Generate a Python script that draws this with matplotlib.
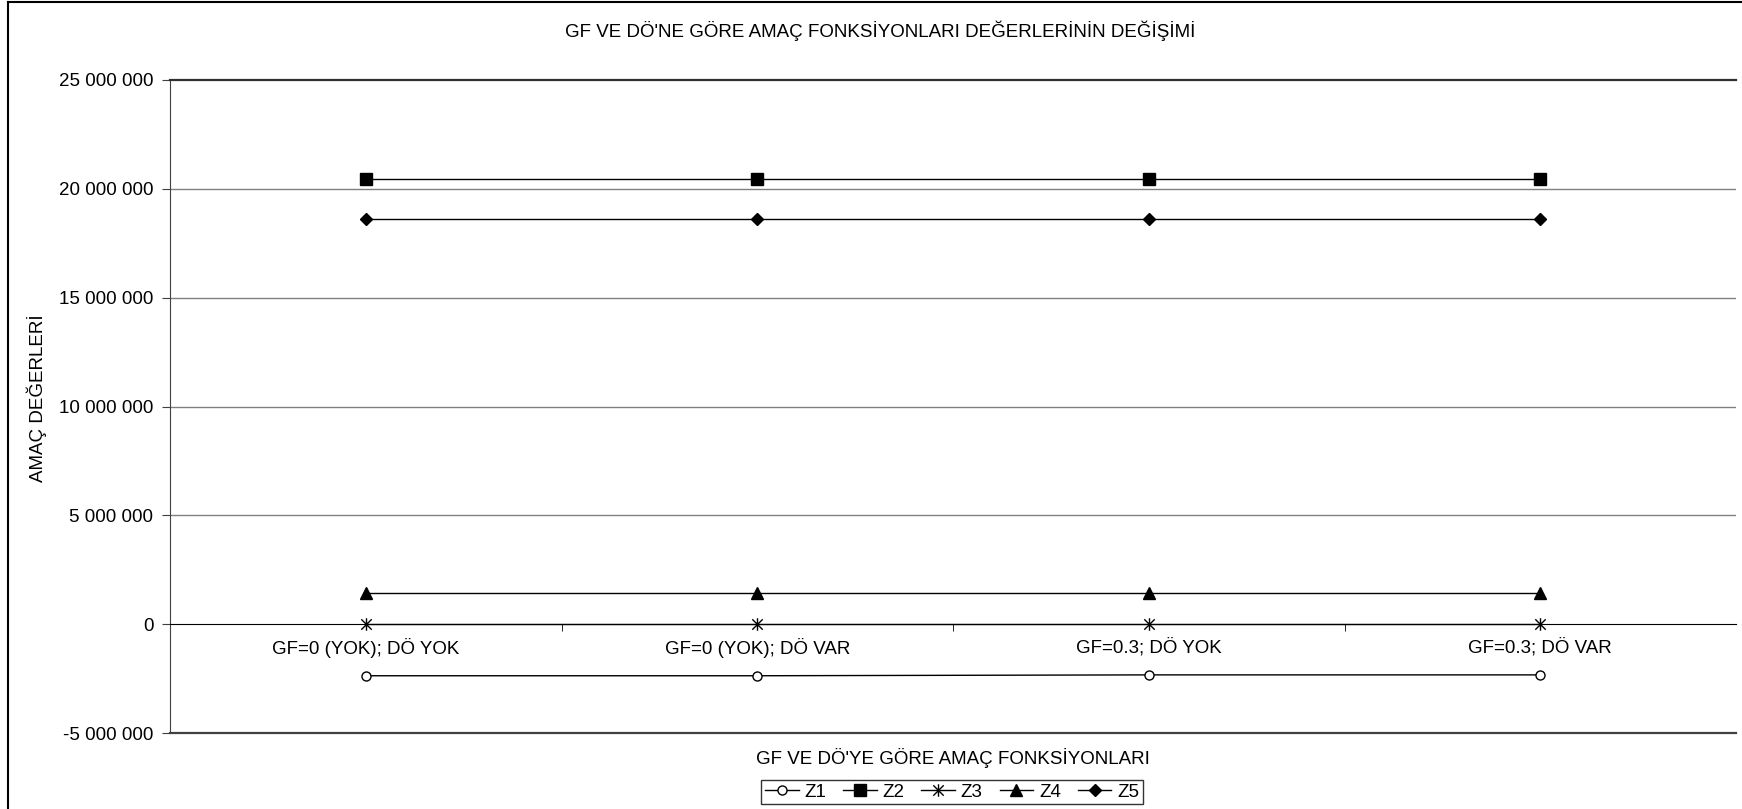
import matplotlib
matplotlib.use("Agg")
import matplotlib.pyplot as plt
from matplotlib.path import Path
from matplotlib.lines import Line2D

# kategori etiketleri ve amaç fonksiyonu değerleri
categories = ["GF=0 (YOK); DÖ YOK", "GF=0 (YOK); DÖ VAR", "GF=0.3; DÖ YOK", "GF=0.3; DÖ VAR"]
z1 = [-2370000, -2370000, -2330000, -2330000]
z2 = [20460000, 20460000, 20460000, 20460000]
z3 = [0, 0, 0, 0]
z4 = [1430000, 1430000, 1430000, 1430000]
z5 = [18620000, 18620000, 18620000, 18620000]
y_ticks = [-5000000, 0, 5000000, 10000000, 15000000, 20000000, 25000000]

plt.rcParams['font.family'] = ['Liberation Sans', 'DejaVu Sans']
fs = 13.5

# excel tarzı yıldız işareti: x + dikey çizgi
star = Path([(-0.5, -0.5), (0.5, 0.5), (-0.5, 0.5), (0.5, -0.5), (0, -0.6), (0, 0.6)],
            [Path.MOVETO, Path.LINETO, Path.MOVETO, Path.LINETO, Path.MOVETO, Path.LINETO])

W, H = 1742, 809
fig = plt.figure(figsize=(W / 100, H / 100), dpi=100)
ax = fig.add_axes([170 / W, 1 - 733 / H, (1736 - 170) / W, (733 - 80) / H])

x = list(range(len(categories)))
series = [
    ("Z1", z1, dict(marker="o", markersize=6.5, markerfacecolor="white")),
    ("Z2", z2, dict(marker="s", markersize=8, markerfacecolor="black")),
    ("Z3", z3, dict(marker=star, markersize=9, markerfacecolor="black", markeredgewidth=1)),
    ("Z4", z4, dict(marker="^", markersize=8, markerfacecolor="black")),
    ("Z5", z5, dict(marker="D", markersize=6.5, markerfacecolor="black")),
]
handles = []
for name, vals, style in series:
    h, = ax.plot(x, vals, color="black", lw=1, markeredgecolor="black", label=name,
                 zorder=4, **style)
    handles.append(h)

ax.set_xlim(-0.5, len(categories) - 0.5)
ax.set_ylim(-5000000, 25000000)

# yatay kılavuz çizgileri
for v in y_ticks[1:-1]:
    if v != 0:
        ax.axhline(v, color="#808080", lw=1, zorder=1)
ax.axhline(-5000000, color="#404040", lw=1.6, zorder=1, clip_on=False)

ax.spines['top'].set_color("#303030")
ax.spines['top'].set_linewidth(1.6)
ax.spines['right'].set_visible(False)
ax.spines['left'].set_color("#404040")
ax.spines['bottom'].set_position(('data', 0))
ax.spines['bottom'].set_color("black")

ax.set_yticks(y_ticks)
ax.set_yticklabels([f"{v:,.0f}".replace(",", " ") for v in y_ticks], fontsize=fs)
ax.tick_params(axis="y", direction="out", length=6, color="#404040", pad=6)

ax.set_xticks(x)
ax.set_xticklabels(categories, fontsize=fs)
ax.tick_params(axis="x", which="major", length=0, pad=10)
ax.set_xticks([0.5, 1.5, 2.5], minor=True)
ax.tick_params(axis="x", which="minor", direction="out", length=5, color="black")

fig.text(880 / W, 1 - 31 / H, "GF VE DÖ'NE GÖRE AMAÇ FONKSİYONLARI DEĞERLERİNİN DEĞİŞİMİ",
         ha="center", va="center", fontsize=fs)
fig.text(953 / W, 1 - 758 / H, "GF VE DÖ'YE GÖRE AMAÇ FONKSİYONLARI",
         ha="center", va="center", fontsize=fs)
fig.text(37 / W, 1 - 398 / H, "AMAÇ DEĞERLERİ", rotation=90,
         ha="center", va="center", fontsize=fs)

leg = fig.legend(handles=handles, loc="center", bbox_to_anchor=(952 / W, 1 - 792 / H),
                 ncol=5, fontsize=fs, frameon=True, fancybox=False, handlelength=1.8,
                 handletextpad=0.3, columnspacing=0.9, borderpad=0.2)
leg.get_frame().set_edgecolor("black")
leg.get_frame().set_linewidth(1)

# grafik alanının dış çerçevesi
fig.add_artist(Line2D([8 / W, 8 / W], [0, 1 - 1.5 / H], transform=fig.transFigure,
                      color="black", lw=1.5))
fig.add_artist(Line2D([8 / W, 1], [1 - 1.5 / H, 1 - 1.5 / H], transform=fig.transFigure,
                      color="black", lw=1.5))

fig.savefig("out.png", dpi=100)
